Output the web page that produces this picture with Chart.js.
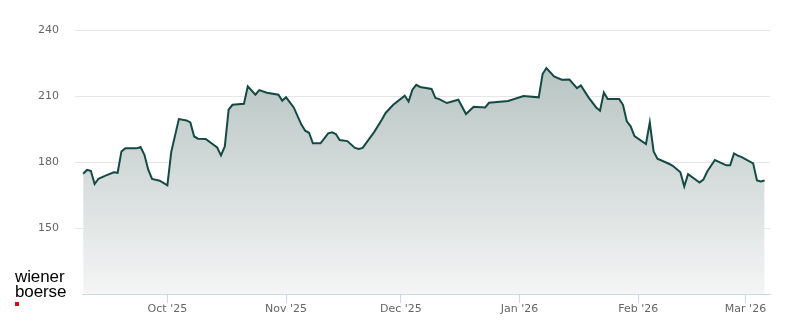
<!DOCTYPE html>
<html>
<head>
<meta charset="utf-8">
<script src="https://cdn.jsdelivr.net/npm/chart.js@4/dist/chart.umd.min.js"></script>
<style>
    html, body { margin: 0; padding: 0; background: #fff; }
    #wrap { position: relative; width: 800px; height: 324px; }
    .logo {
        position: absolute; left: 15px; top: 269px;
        font-family: "Liberation Sans", Arial, sans-serif;
        font-size: 17px; line-height: 15px; color: #000; letter-spacing: -0.1px;
    }
    .logo-dot { position: absolute; left: 15px; top: 302px; width: 4px; height: 4px; background: #d20a11; }
</style>
</head>
<body>
<div id="wrap">
    <canvas id="chart" width="800" height="324"></canvas>
    <div class="logo">wiener<br>boerse</div>
    <div class="logo-dot"></div>
</div>
<script>
// PRICE HISTORY
const dates = [
    '2025-09-09', '2025-09-10', '2025-09-11', '2025-09-12', '2025-09-13', '2025-09-15', '2025-09-17', '2025-09-18',
    '2025-09-19', '2025-09-20', '2025-09-23', '2025-09-24', '2025-09-25', '2025-09-26', '2025-09-27', '2025-09-29',
    '2025-10-01', '2025-10-02', '2025-10-04', '2025-10-06', '2025-10-07', '2025-10-08', '2025-10-09', '2025-10-11',
    '2025-10-14', '2025-10-15', '2025-10-16', '2025-10-17', '2025-10-18', '2025-10-21', '2025-10-22', '2025-10-24',
    '2025-10-25', '2025-10-27', '2025-10-30', '2025-10-31', '2025-11-01', '2025-11-03', '2025-11-05', '2025-11-06',
    '2025-11-07', '2025-11-08', '2025-11-10', '2025-11-12', '2025-11-13', '2025-11-14', '2025-11-15', '2025-11-17',
    '2025-11-19', '2025-11-20', '2025-11-21', '2025-11-24', '2025-11-26', '2025-11-27', '2025-11-29', '2025-12-02',
    '2025-12-03', '2025-12-04', '2025-12-05', '2025-12-06', '2025-12-09', '2025-12-10', '2025-12-11', '2025-12-13',
    '2025-12-16', '2025-12-18', '2025-12-20', '2025-12-23', '2025-12-24', '2025-12-29', '2026-01-02', '2026-01-06',
    '2026-01-07', '2026-01-08', '2026-01-10', '2026-01-12', '2026-01-14', '2026-01-16', '2026-01-17', '2026-01-19',
    '2026-01-21', '2026-01-22', '2026-01-23', '2026-01-24', '2026-01-27', '2026-01-28', '2026-01-29', '2026-01-30',
    '2026-01-31', '2026-02-03', '2026-02-04', '2026-02-05', '2026-02-06', '2026-02-09', '2026-02-10', '2026-02-12',
    '2026-02-13', '2026-02-14', '2026-02-17', '2026-02-18', '2026-02-19', '2026-02-21', '2026-02-24', '2026-02-25',
    '2026-02-26', '2026-02-27', '2026-02-28', '2026-03-03', '2026-03-04', '2026-03-05', '2026-03-06'
];
const prices = [
    174.7, 176.4, 176.0, 170.0, 172.4, 173.9, 175.3, 175.1,
    184.8, 186.2, 186.2, 186.8, 183.3, 176.5, 172.3, 171.5,
    169.4, 184.5, 199.5, 198.9, 198.0, 191.6, 190.6, 190.5,
    186.6, 183.0, 187.1, 203.8, 206.0, 206.5, 214.4, 210.6,
    212.7, 211.5, 210.6, 207.9, 209.4, 204.8, 197.0, 194.2,
    193.3, 188.5, 188.5, 193.0, 193.5, 192.7, 190.0, 189.5,
    186.4, 185.9, 186.4, 193.6, 199.2, 202.3, 206.0, 210.1,
    207.5, 212.9, 215.1, 214.1, 213.2, 209.1, 208.6, 206.8,
    208.3, 201.8, 205.1, 204.8, 206.9, 207.7, 210.0, 209.4,
    220.0, 222.7, 218.9, 217.4, 217.5, 213.6, 214.8, 209.4,
    204.8, 203.3, 211.6, 208.6, 208.6, 206.0, 198.5, 196.2,
    191.8, 188.2, 198.0, 184.8, 181.5, 179.2, 178.3, 175.3,
    168.9, 174.5, 170.7, 172.0, 175.7, 180.9, 178.5, 178.5,
    183.9, 182.9, 182.2, 179.4, 171.6, 171.2, 171.6
];

// X AXIS (month ticks)
const monthTicks = ['2025-10-01', '2025-11-01', '2025-12-01', '2026-01-01', '2026-02-01', '2026-03-01'];
const monthLabels = ["Oct '25", "Nov '25", "Dec '25", "Jan '26", "Feb '26", "Mar '26"];

// Y AXIS
const yTicks = [120, 150, 180, 210, 240];

// Utility: date string -> day number
function dayNum(s) {
    const p = s.split('-').map(Number);
    return Date.UTC(p[0], p[1] - 1, p[2]) / 86400000;
}

const points = dates.map((d, i) => ({ x: dayNum(d), y: prices[i] }));
const tickDays = monthTicks.map(dayNum);

const ctx = document.getElementById('chart').getContext('2d');
new Chart(ctx, {
    type: 'line',
    data: {
        datasets: [{
            data: points,
            borderColor: '#154a44',
            borderWidth: 2,
            pointRadius: 0,
            tension: 0,
            fill: 'start',
            backgroundColor: (c) => {
                const area = c.chart.chartArea;
                if (!area) return '#cfd8d6';
                const g = c.chart.ctx.createLinearGradient(0, area.top, 0, area.bottom);
                g.addColorStop(0, '#aebdba');
                g.addColorStop(1, '#f4f5f5');
                return g;
            }
        }]
    },
    options: {
        responsive: false,
        animation: false,
        layout: { padding: { top: 30, right: 30, left: 0, bottom: 0 } },
        plugins: { legend: { display: false }, tooltip: { enabled: false } },
        scales: {
            x: {
                type: 'linear',
                min: dayNum(dates[0]) - 0.3,
                max: dayNum('2026-03-07') + 0.4,
                afterBuildTicks: (s) => { s.ticks = tickDays.map(v => ({ value: v })); },
                afterFit: (s) => { s.height = 30; },
                grid: { drawOnChartArea: false, drawTicks: true, tickLength: 9, color: '#ccd6eb' },
                border: { display: true, color: '#ccd6eb', width: 1 },
                ticks: {
                    autoSkip: false, maxRotation: 0, padding: 0,
                    color: '#666666', font: { family: 'DejaVu Sans', size: 11 },
                    callback: (v) => {
                        const i = tickDays.indexOf(v);
                        return i >= 0 ? monthLabels[i] : '';
                    }
                }
            },
            y: {
                min: yTicks[0],
                max: yTicks[yTicks.length - 1],
                afterBuildTicks: (s) => { s.ticks = yTicks.map(v => ({ value: v })); },
                afterFit: (s) => { s.width = 82; },
                grid: {
                    tickLength: 7,
                    color: (c) => c.tick && c.tick.value === yTicks[0] ? 'rgba(0,0,0,0)' : '#e6e6e6'
                },
                border: { display: false },
                ticks: {
                    padding: 16,
                    color: '#666666', font: { family: 'DejaVu Sans', size: 11 },
                    callback: (v) => v === yTicks[0] ? '' : v
                }
            }
        }
    }
});
</script>
</body>
</html>
